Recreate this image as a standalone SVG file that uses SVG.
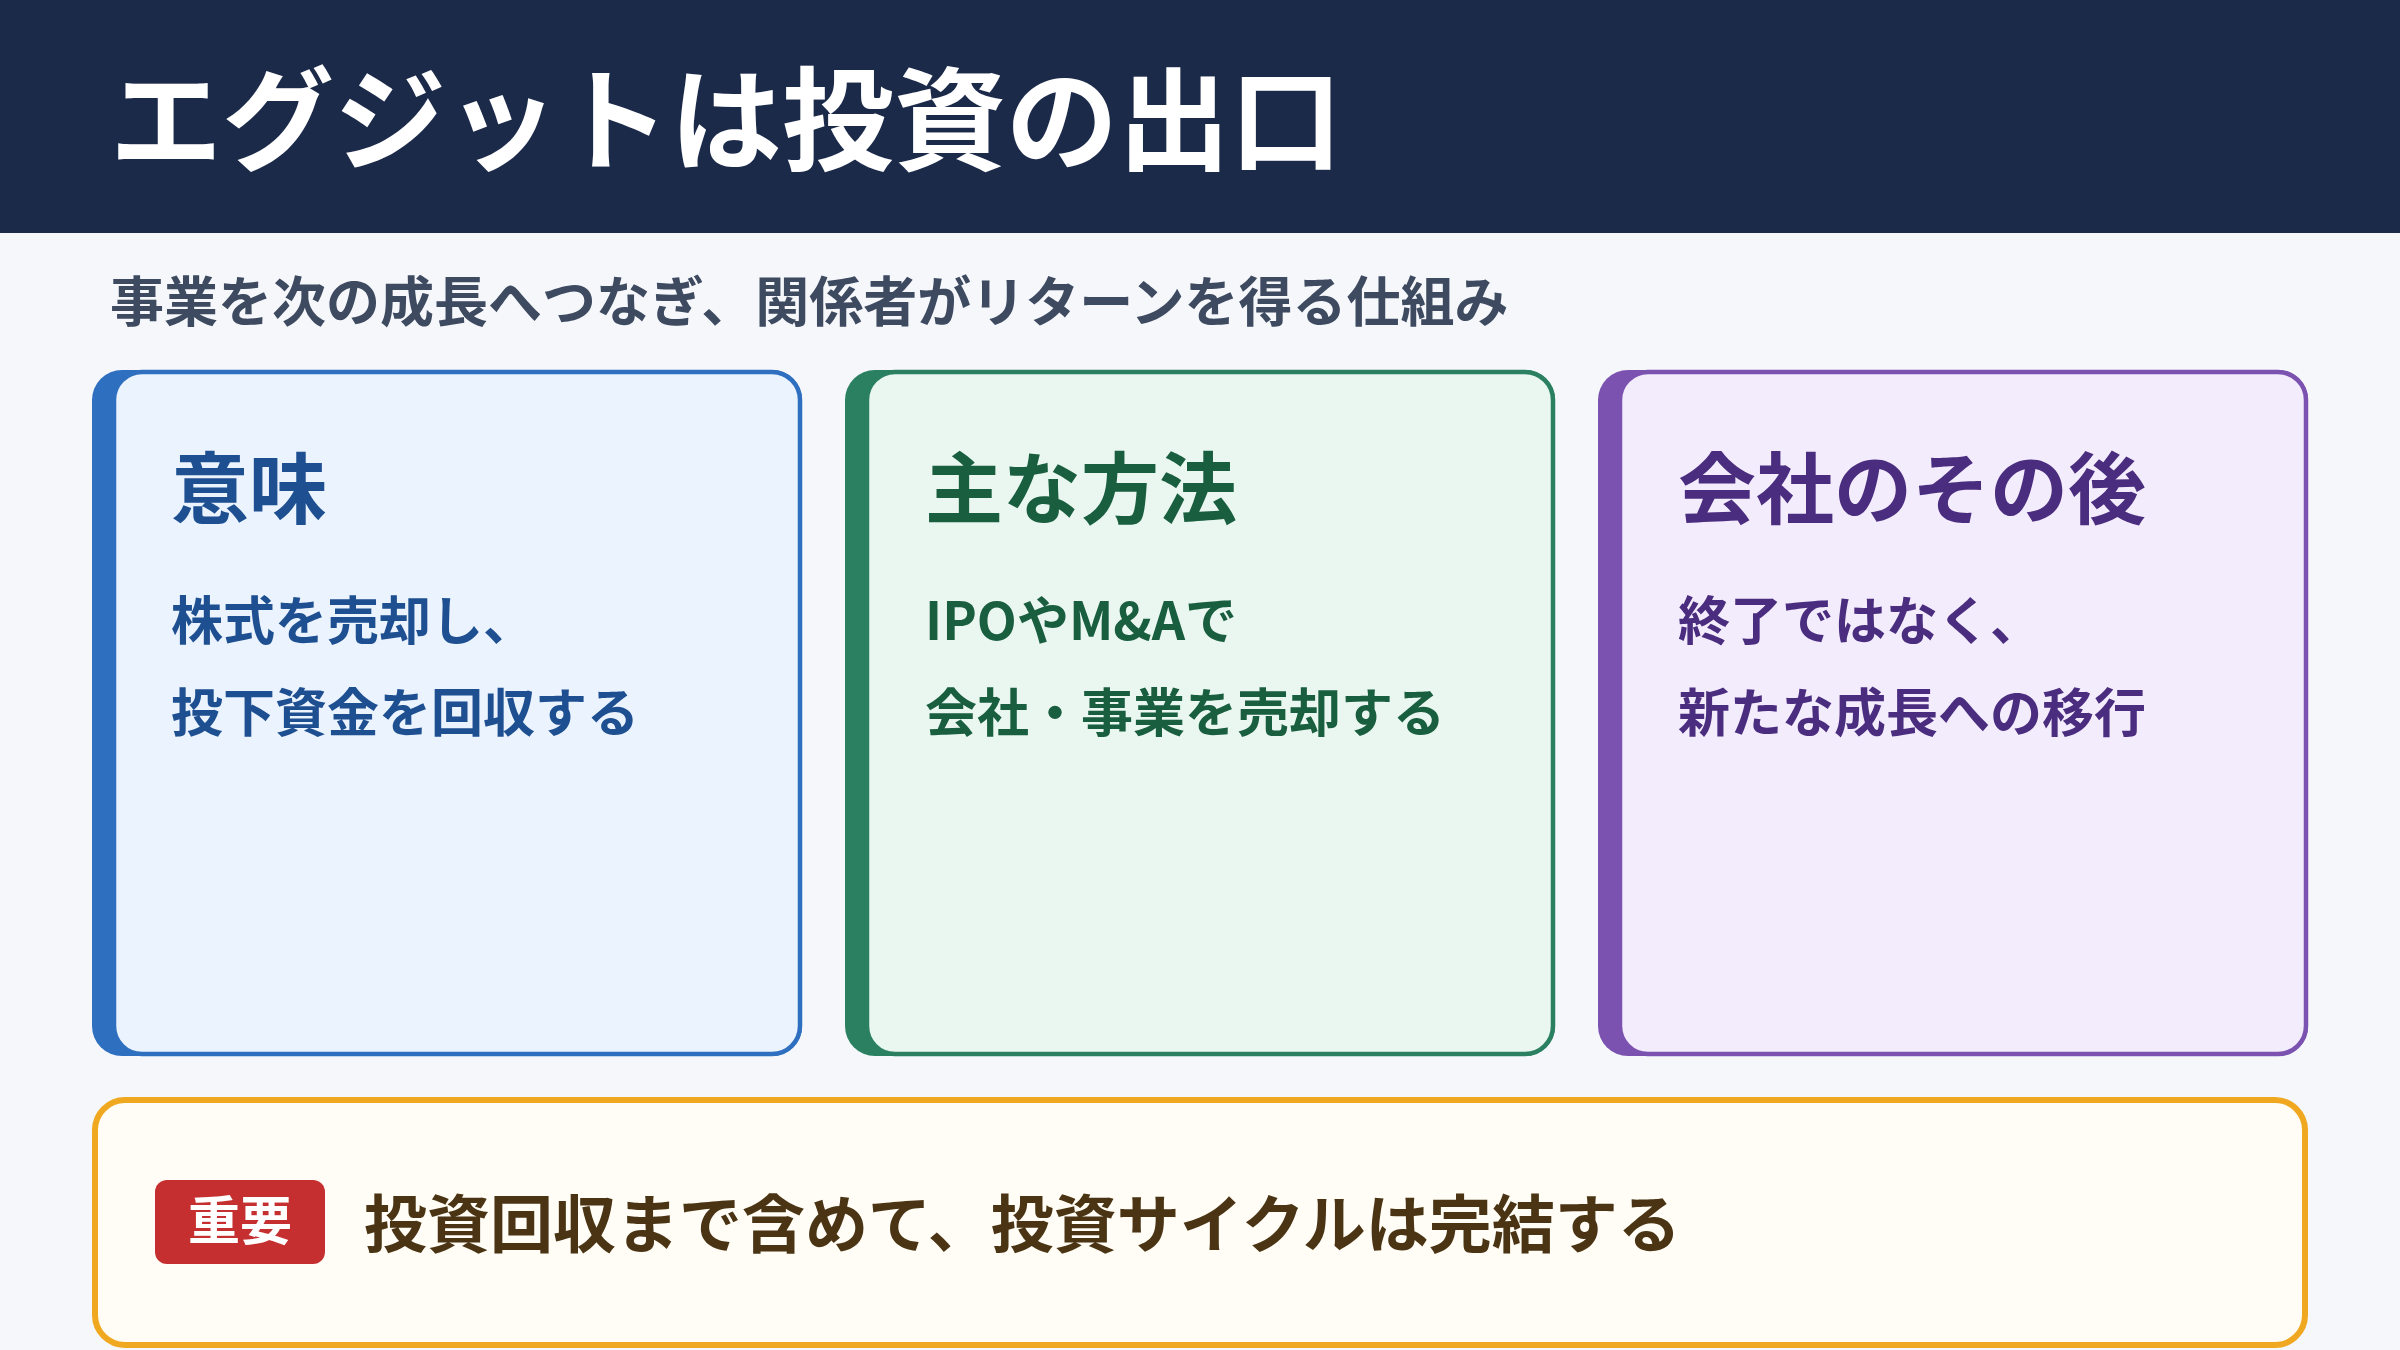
<svg xmlns="http://www.w3.org/2000/svg" width="2400" height="1350" viewBox="0 0 2400 1350">
<style>
text{font-family:"Noto Sans CJK JP","Noto Sans",sans-serif;font-weight:700}
.h{font-size:78px}.b{font-size:52px}
</style>
<rect width="2400" height="1350" fill="#f5f7fb"/>
<g id="header"><rect width="2400" height="233" fill="#1c2a4a"/>
<text x="110" y="162" font-size="112" fill="#ffffff">エグジットは投資の出口</text></g>
<text id="subtitle" x="110" y="322" font-size="54" fill="#3d4a60" font-weight="700">事業を次の成長へつなぎ、関係者がリターンを得る仕組み</text>
<g id="card1">
<rect x="92" y="370" width="710" height="686" rx="30" fill="#2f6fbf"/>
<rect x="114" y="372" width="686" height="682" rx="28" fill="#ebf3fe" stroke="#2f6fbf" stroke-width="4.5"/>
<text x="171" y="518" class="h" fill="#1d4f91">意味</text>
<text x="171" y="640" class="b" fill="#1d4f91">株式を売却し、</text>
<text x="171" y="732" class="b" fill="#1d4f91">投下資金を回収する</text></g>
<g id="card2">
<rect x="845" y="370" width="710" height="686" rx="30" fill="#2a8060"/>
<rect x="867" y="372" width="686" height="682" rx="28" fill="#eaf7f0" stroke="#2a8060" stroke-width="4.5"/>
<text x="925" y="518" class="h" fill="#1a5e40">主な方法</text>
<text x="925" y="640" class="b" fill="#1a5e40">IPOやM&amp;Aで</text>
<text x="925" y="732" class="b" fill="#1a5e40">会社・事業を売却する</text></g>
<g id="card3">
<rect x="1598" y="370" width="710" height="686" rx="30" fill="#7b52b0"/>
<rect x="1620" y="372" width="686" height="682" rx="28" fill="#f3ecfd" stroke="#7b52b0" stroke-width="4.5"/>
<text x="1678" y="518" class="h" fill="#4b2d7f">会社のその後</text>
<text x="1678" y="640" class="b" fill="#4b2d7f">終了ではなく、</text>
<text x="1678" y="732" class="b" fill="#4b2d7f">新たな成長への移行</text></g>
<g id="note">
<rect x="95" y="1100" width="2210" height="245" rx="30" fill="#fffdf5" stroke="#f0a820" stroke-width="6"/>
<rect x="155" y="1180" width="170" height="84" rx="12" fill="#c62f2f"/>
<text x="240" y="1240" font-size="52" fill="#ffffff" text-anchor="middle">重要</text>
<text x="364" y="1247" font-size="63" fill="#4a3414">投資回収まで含めて、投資サイクルは完結する</text></g>
</svg>
